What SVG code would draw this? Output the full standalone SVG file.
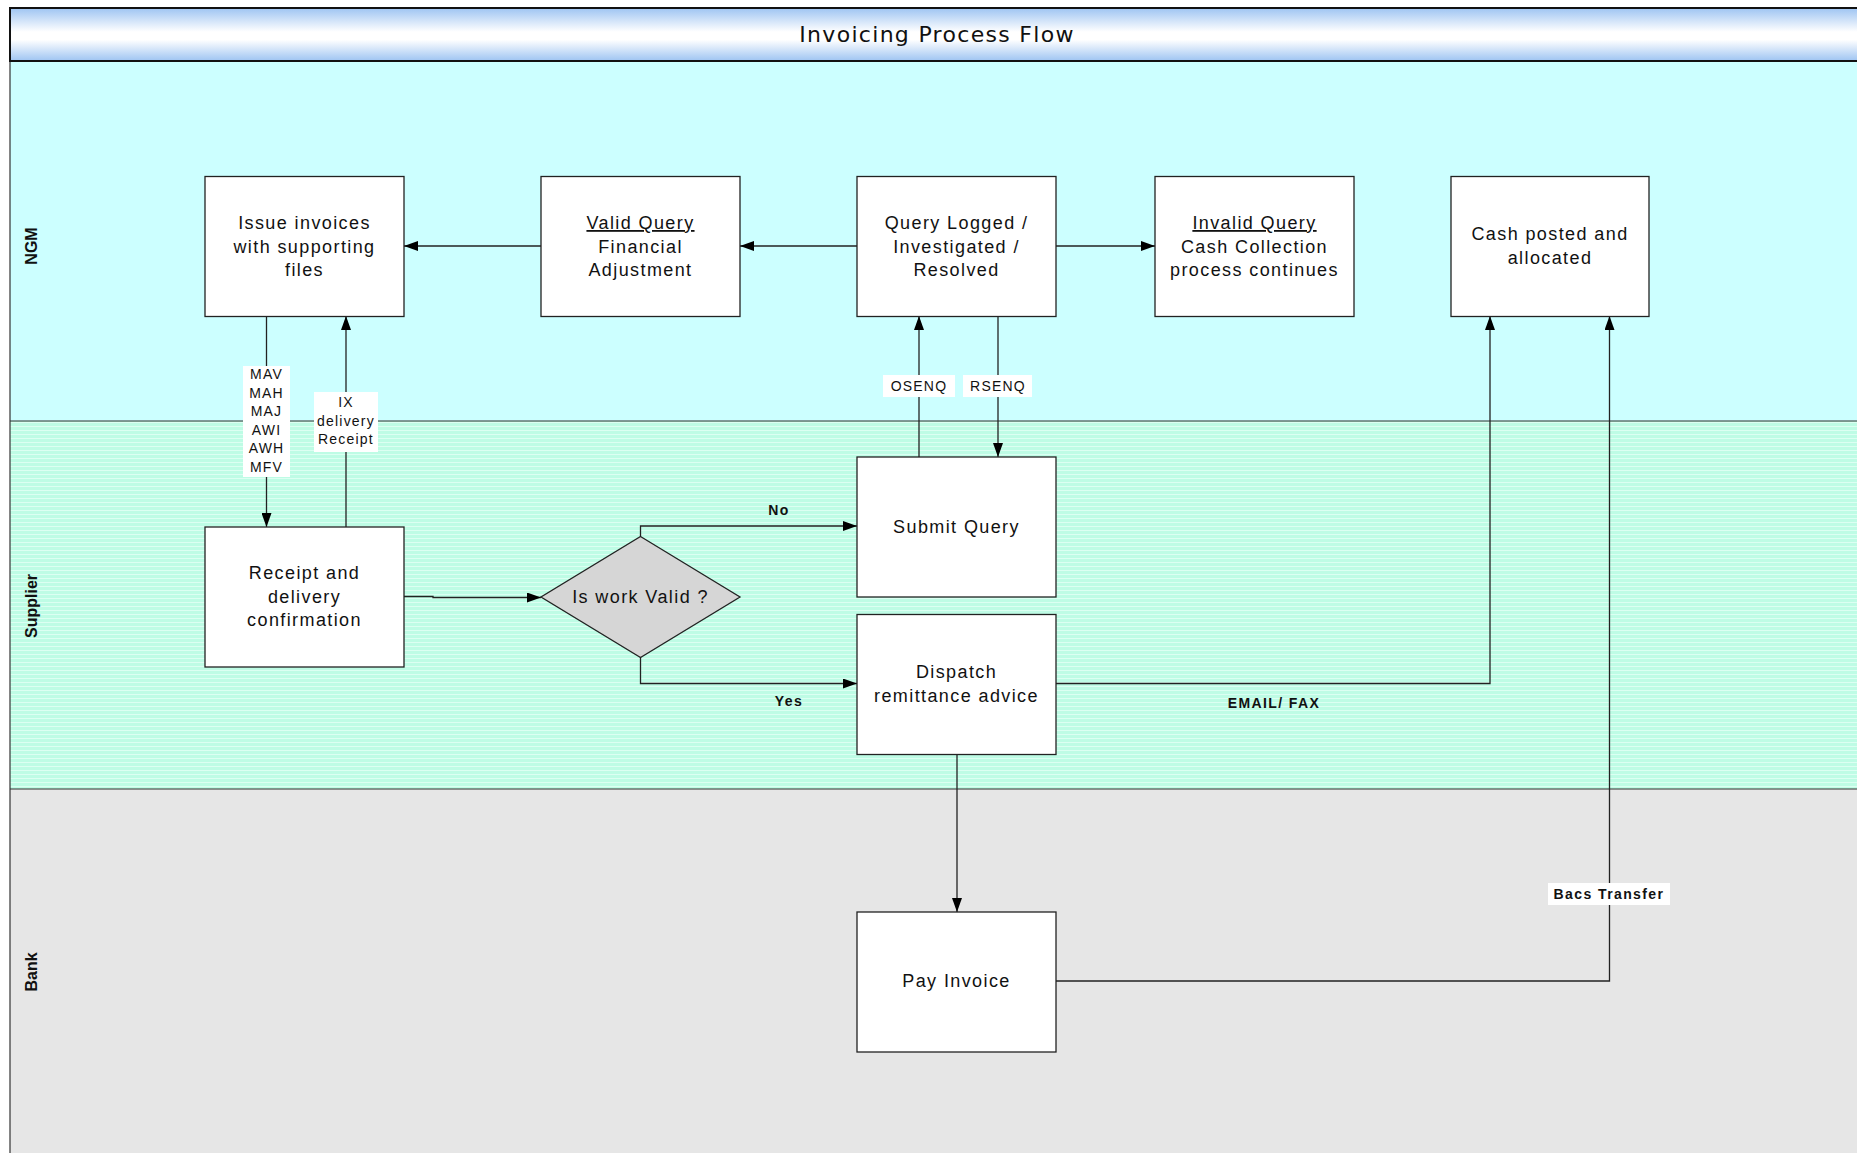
<svg xmlns="http://www.w3.org/2000/svg" width="1857" height="1153" viewBox="0 0 1857 1153">
  <defs>
    <linearGradient id="hdr" x1="0" y1="0" x2="0" y2="1">
      <stop offset="0" stop-color="#9EC4F2"/>
      <stop offset="0.45" stop-color="#FFFFFF"/>
      <stop offset="0.6" stop-color="#FFFFFF"/>
      <stop offset="1" stop-color="#9EC4F2"/>
    </linearGradient>
    <pattern id="stripes" width="8" height="4" patternUnits="userSpaceOnUse">
      <rect width="8" height="4" fill="#BEFCE5"/>
      <rect y="2" width="8" height="1" fill="#DCFFF2"/>
    </pattern>
    <marker id="arr" viewBox="0 0 14 10" refX="14" refY="5" markerWidth="14" markerHeight="10" markerUnits="userSpaceOnUse" orient="auto">
      <path d="M0,0 L14,5 L0,10 z" fill="#000"/>
    </marker>
  </defs>
  <style>
    .box { fill: #FFFFFF; stroke: #222; stroke-width: 1.3; }
    .dia { fill: #D6D6D6; stroke: #222; stroke-width: 1.3; }
    .t { font-family: "Liberation Sans", Arial, sans-serif; font-size: 18px; letter-spacing: 1.4px; fill: #111; text-anchor: middle; }
    .u { text-decoration: underline; }
    .lbl { font-family: "Liberation Sans", Arial, sans-serif; font-size: 14px; letter-spacing: 1.2px; fill: #111; text-anchor: middle; }
    .blbl { font-family: "Liberation Sans", Arial, sans-serif; font-size: 14px; font-weight: bold; letter-spacing: 1.4px; fill: #111; text-anchor: middle; }
    .lane { font-family: "Liberation Sans", Arial, sans-serif; font-size: 16px; font-weight: bold; fill: #111; text-anchor: middle; }
    .c { fill: none; stroke: #222; stroke-width: 1.3; }
    .lb { fill: #FFFFFF; }
  </style>

  <rect width="1857" height="1153" fill="#FFFFFF"/>

  <!-- swimlanes -->
  <g id="lanes">
    <rect x="10" y="61" width="1847" height="360" fill="#CCFFFF"/>
    <rect x="10" y="421" width="1847" height="368" fill="url(#stripes)"/>
    <rect x="10" y="789" width="1847" height="364" fill="#E6E6E6"/>
    <line x1="10" y1="421" x2="1857" y2="421" stroke="#333" stroke-width="1.2"/>
    <line x1="10" y1="789" x2="1857" y2="789" stroke="#333" stroke-width="1.2"/>
    <line x1="10" y1="61" x2="10" y2="1153" stroke="#333" stroke-width="1.2"/>
    <text class="lane" transform="translate(37,246) rotate(-90)">NGM</text>
    <text class="lane" transform="translate(37,606) rotate(-90)">Supplier</text>
    <text class="lane" transform="translate(37,972) rotate(-90)">Bank</text>
  </g>

  <!-- title bar -->
  <g id="header">
    <rect x="10" y="8" width="1860" height="53" fill="url(#hdr)" stroke="#111" stroke-width="2"/>
    <text x="937" y="42" font-family="'DejaVu Sans', sans-serif" font-size="22" letter-spacing="1.3" fill="#111" text-anchor="middle">Invoicing Process Flow</text>
  </g>

  <!-- connectors -->
  <g id="connectors">
    <path class="c" d="M857 246 H740" marker-end="url(#arr)"/>
    <path class="c" d="M541 246 H404" marker-end="url(#arr)"/>
    <path class="c" d="M1056 246 H1155" marker-end="url(#arr)"/>
    <path class="c" d="M266.5 316 V527" marker-end="url(#arr)"/>
    <path class="c" d="M346 527 V316" marker-end="url(#arr)"/>
    <path class="c" d="M404 596.5 H433 V597.5 H541" marker-end="url(#arr)"/>
    <path class="c" d="M640.5 536.5 V526 H857" marker-end="url(#arr)"/>
    <path class="c" d="M640.5 657 V683.5 H857" marker-end="url(#arr)"/>
    <path class="c" d="M919 457 V316" marker-end="url(#arr)"/>
    <path class="c" d="M998 316 V457" marker-end="url(#arr)"/>
    <path class="c" d="M1056 683.5 H1490 V316" marker-end="url(#arr)"/>
    <path class="c" d="M957 754.5 V912" marker-end="url(#arr)"/>
    <path class="c" d="M1056 981 H1609.5 V316" marker-end="url(#arr)"/>

    <!-- connector labels -->
    <rect class="lb" x="243" y="366" width="47" height="111"/>
    <text class="lbl" x="266.5" y="379">MAV</text>
    <text class="lbl" x="266.5" y="398">MAH</text>
    <text class="lbl" x="266.5" y="416">MAJ</text>
    <text class="lbl" x="266.5" y="435">AWI</text>
    <text class="lbl" x="266.5" y="453">AWH</text>
    <text class="lbl" x="266.5" y="472">MFV</text>

    <rect class="lb" x="314" y="392" width="64" height="60"/>
    <text class="lbl" x="346" y="407">IX</text>
    <text class="lbl" x="346" y="426">delivery</text>
    <text class="lbl" x="346" y="444">Receipt</text>

    <rect class="lb" x="883" y="375" width="72" height="22"/>
    <text class="lbl" x="919" y="391">OSENQ</text>
    <rect class="lb" x="963" y="375" width="69" height="22"/>
    <text class="lbl" x="998" y="391">RSENQ</text>

    <text class="blbl" x="779" y="515">No</text>
    <text class="blbl" x="789" y="706">Yes</text>
    <text class="blbl" x="1274" y="708">EMAIL/ FAX</text>

    <rect class="lb" x="1548" y="883" width="122" height="22"/>
    <text class="blbl" x="1609" y="899">Bacs Transfer</text>
  </g>

  <!-- process nodes -->
  <g id="issue-invoices">
    <rect class="box" x="205" y="176.5" width="199" height="140"/>
    <text class="t" x="304.5" y="229">Issue invoices</text>
    <text class="t" x="304.5" y="252.5">with supporting</text>
    <text class="t" x="304.5" y="276">files</text>
  </g>
  <g id="valid-query">
    <rect class="box" x="541" y="176.5" width="199" height="140"/>
    <text class="t u" x="640.5" y="229">Valid Query</text>
    <text class="t" x="640.5" y="252.5">Financial</text>
    <text class="t" x="640.5" y="276">Adjustment</text>
  </g>
  <g id="query-logged">
    <rect class="box" x="857" y="176.5" width="199" height="140"/>
    <text class="t" x="956.5" y="229">Query Logged /</text>
    <text class="t" x="956.5" y="252.5">Investigated /</text>
    <text class="t" x="956.5" y="276">Resolved</text>
  </g>
  <g id="invalid-query">
    <rect class="box" x="1155" y="176.5" width="199" height="140"/>
    <text class="t u" x="1254.5" y="229">Invalid Query</text>
    <text class="t" x="1254.5" y="252.5">Cash Collection</text>
    <text class="t" x="1254.5" y="276">process continues</text>
  </g>
  <g id="cash-posted">
    <rect class="box" x="1451" y="176.5" width="198" height="140"/>
    <text class="t" x="1550" y="240">Cash posted and</text>
    <text class="t" x="1550" y="263.5">allocated</text>
  </g>
  <g id="receipt-delivery">
    <rect class="box" x="205" y="527" width="199" height="140"/>
    <text class="t" x="304.5" y="579">Receipt and</text>
    <text class="t" x="304.5" y="602.5">delivery</text>
    <text class="t" x="304.5" y="626">confirmation</text>
  </g>
  <g id="work-valid">
    <polygon class="dia" points="640.5,536.5 740,597 640.5,657.5 541,597"/>
    <text class="t" x="640.5" y="603">Is work Valid ?</text>
  </g>
  <g id="submit-query">
    <rect class="box" x="857" y="457" width="199" height="140"/>
    <text class="t" x="956.5" y="533">Submit Query</text>
  </g>
  <g id="dispatch-remittance">
    <rect class="box" x="857" y="614.5" width="199" height="140"/>
    <text class="t" x="956.5" y="678">Dispatch</text>
    <text class="t" x="956.5" y="701.5">remittance advice</text>
  </g>
  <g id="pay-invoice">
    <rect class="box" x="857" y="912" width="199" height="140"/>
    <text class="t" x="956.5" y="987">Pay Invoice</text>
  </g>
</svg>
